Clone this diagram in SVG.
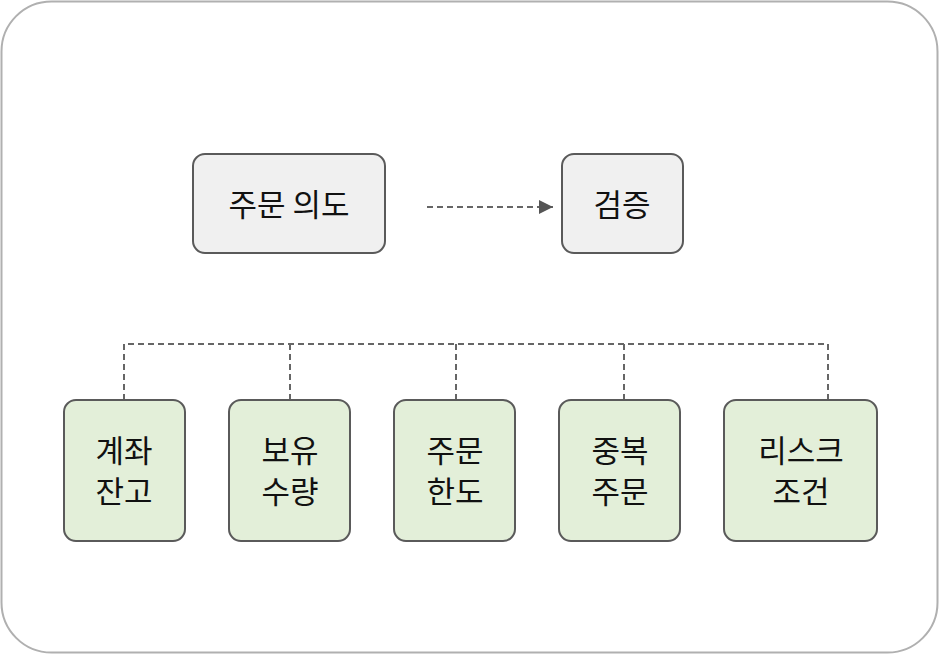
<svg xmlns="http://www.w3.org/2000/svg" width="939" height="654" viewBox="0 0 939 654">
<style>
.n{fill:#f0f0f0;stroke:#5a5a5a;stroke-width:2}
.g{fill:#e3efd9;stroke:#5a5a5a;stroke-width:2}
text{font-family:"Noto Sans CJK KR",sans-serif;font-size:31px;fill:#111;text-anchor:middle}
.c{fill:none;stroke:#666;stroke-width:2;stroke-dasharray:6,4}
</style>
<defs><marker id="a" viewBox="0 0 10 10" refX="10" refY="5" markerWidth="7" markerHeight="7" orient="auto"><path d="M0,0L10,5L0,10z" fill="#555"/></marker></defs>
<rect x="1.5" y="1.5" width="936" height="651" rx="50" fill="#fff" stroke="#b0b0b0" stroke-width="2"/>
<g id="connectors">
<path class="c" d="M427,207H553" marker-end="url(#a)"/>
<path class="c" d="M124,400V344H828V400M290,344V400M456,344V400M624,344V400"/>
</g>
<g id="intent"><rect class="n" x="193" y="154" width="192" height="99" rx="12"/><text x="289" y="216">주문 의도</text></g>
<g id="verify"><rect class="n" x="562" y="154" width="121" height="99" rx="12"/><text x="622" y="216">검증</text></g>
<g id="n1"><rect class="g" x="64" y="400" width="121" height="141" rx="12"/><text x="124" y="462">계좌</text><text x="124" y="503">잔고</text></g>
<g id="n2"><rect class="g" x="229" y="400" width="121" height="141" rx="12"/><text x="290" y="462">보유</text><text x="290" y="503">수량</text></g>
<g id="n3"><rect class="g" x="394" y="400" width="121" height="141" rx="12"/><text x="455" y="462">주문</text><text x="455" y="503">한도</text></g>
<g id="n4"><rect class="g" x="559" y="400" width="121" height="141" rx="12"/><text x="620" y="462">중복</text><text x="620" y="503">주문</text></g>
<g id="n5"><rect class="g" x="724" y="400" width="153" height="141" rx="12"/><text x="801" y="462">리스크</text><text x="801" y="503">조건</text></g>
</svg>
